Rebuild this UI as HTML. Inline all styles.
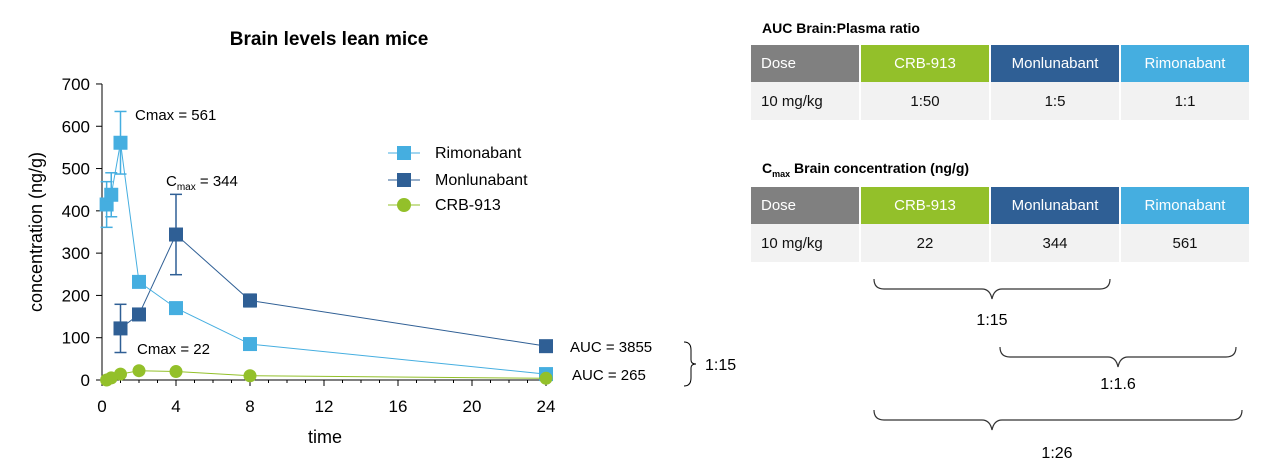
<!DOCTYPE html>
<html><head><meta charset="utf-8"><style>
body{margin:0;width:1261px;height:475px;background:#fff;font-family:"Liberation Sans",sans-serif;overflow:hidden;position:relative}
table{position:absolute;left:751px;border-collapse:collapse;font-size:15px}
td{height:37px;text-align:center;border-right:2px solid #fff;padding:0}
.h td{color:#fff}
.d td{background:#f2f2f2;color:#111;height:38px}
.ttl{position:absolute;left:762px;font-weight:bold;font-size:14px}
</style></head><body>
<svg width="1261" height="475" style="position:absolute;left:0;top:0">
<text x="329" y="45" text-anchor="middle" font-weight="bold" font-size="19">Brain levels lean mice</text>
<g id="axes"></g><g id="marks"></g>
<text x="325" y="443" text-anchor="middle" font-size="18">time</text>
<text transform="translate(42,232) rotate(-90)" text-anchor="middle" font-size="18">concentration (ng/g)</text>
<text x="135" y="120" font-size="15">Cmax = 561</text>
<text x="166" y="186" font-size="15">C<tspan font-size="10" dy="4">max</tspan><tspan dy="-4"> = 344</tspan></text>
<text x="137" y="354" font-size="15">Cmax = 22</text>
<text x="570" y="352" font-size="15">AUC = 3855</text>
<text x="572" y="380" font-size="15">AUC = 265</text>
<path d="M684,342 q7,0 7,8 v10 q0,4 5,4 q-5,0 -5,4 v10 q0,8 -7,8" fill="none" stroke="#000"/>
<text x="705" y="370" font-size="16">1:15</text>
<g>
<line x1="388" y1="153" x2="420" y2="153" stroke="#45aee0"/><rect x="397" y="146" width="14" height="14" fill="#45aee0"/><text x="435" y="158" font-size="16">Rimonabant</text>
<line x1="388" y1="180" x2="420" y2="180" stroke="#2f5f95"/><rect x="397" y="173" width="14" height="14" fill="#2f5f95"/><text x="435" y="185" font-size="16">Monlunabant</text>
<line x1="388" y1="205" x2="420" y2="205" stroke="#93c02a"/><circle cx="404" cy="205" r="7" fill="#93c02a"/><text x="435" y="210" font-size="16">CRB-913</text>
</g>
<g fill="none" stroke="#333" stroke-width="1.2">
<path d="M874,279 q0,10 10,10 h98 q8,0 10,10 q2,-10 10,-10 h98 q10,0 10,-10"/>
<path d="M1000,347 q0,10 10,10 h98 q8,0 10,10 q2,-10 10,-10 h98 q10,0 10,-10"/>
<path d="M874,410 q0,10 10,10 h98 q8,0 10,10 q2,-10 10,-10 h230 q10,0 10,-10"/>
</g>
<text x="992" y="325" text-anchor="middle" font-size="16">1:15</text>
<text x="1118" y="389" text-anchor="middle" font-size="16">1:1.6</text>
<text x="1057" y="458" text-anchor="middle" font-size="16">1:26</text>
</svg>
<div class="ttl" style="top:20px">AUC Brain:Plasma ratio</div>
<table style="top:45px">
<tr class="h"><td style="width:108px;background:#808080;text-align:left;padding-left:10px;width:98px">Dose</td><td style="width:128px;background:#93c02a">CRB-913</td><td style="width:128px;background:#2f5f95">Monlunabant</td><td style="width:128px;background:#45aee0">Rimonabant</td></tr>
<tr class="d"><td style="text-align:left;padding-left:10px">10 mg/kg</td><td>1:50</td><td>1:5</td><td>1:1</td></tr></table>
<div class="ttl" style="top:160px">C<sub style="font-size:9px">max</sub> Brain concentration (ng/g)</div>
<table style="top:187px">
<tr class="h"><td style="background:#808080;text-align:left;padding-left:10px;width:98px">Dose</td><td style="width:128px;background:#93c02a">CRB-913</td><td style="width:128px;background:#2f5f95">Monlunabant</td><td style="width:128px;background:#45aee0">Rimonabant</td></tr>
<tr class="d"><td style="text-align:left;padding-left:10px">10 mg/kg</td><td>22</td><td>344</td><td>561</td></tr></table>
<script>
const yTicks=[0,100,200,300,400,500,600,700];
const xTicks=[0,4,8,12,16,20,24];
const rimT=[0.25,0.5,1,2,4,8,24];
const rimV=[415,438,561,232,170,85,14];
const rimErr=[54,52,74,0,0,0,0];
const monT=[1,2,4,8,24];
const monV=[122,155,344,188,80];
const monErr=[57,0,95,15,0];
const crbT=[0.25,0.5,1,2,4,8,24];
const crbV=[0,5,14,22,20,10,4];
const X=t=>102+t*18.5, Y=v=>380-v*0.4229;
const NS='http://www.w3.org/2000/svg';
function mk(tag,attrs,parent){const e=document.createElementNS(NS,tag);for(const k in attrs)e.setAttribute(k,attrs[k]);parent.appendChild(e);return e;}
const ax=document.getElementById('axes'),mg=document.getElementById('marks');
let a=mk('line',{x1:102,y1:Y(700),x2:102,y2:380,stroke:'#000'},ax);


a=mk('line',{x1:102,y1:380,x2:X(24),y2:380,stroke:'#000'},ax);


yTicks.forEach(v=>{mk('line',{x1:96,x2:102,y1:Y(v),y2:Y(v),stroke:'#000'},ax);const t=mk('text',{x:90,y:Y(v)+6,'text-anchor':'end','font-size':17},ax);t.textContent=v;

});
xTicks.forEach(v=>{mk('line',{x1:X(v),x2:X(v),y1:380,y2:386,stroke:'#000'},ax);const t=mk('text',{x:X(v),y:412,'text-anchor':'middle','font-size':17},ax);t.textContent=v;

});
for(let h=1;h<24;h++)mk('line',{x1:X(h),x2:X(h),y1:380,y2:383,stroke:'#000'},ax);
function series(T,V,E,col,shape,name){
 mk('polyline',{points:T.map((t,i)=>X(t)+','+Y(V[i])).join(' '),fill:'none',stroke:col,'stroke-width':1},mg);
 T.forEach((t,i)=>{
  if(E&&E[i]){mk('line',{x1:X(t),x2:X(t),y1:Y(V[i]+E[i]),y2:Y(V[i]-E[i]),stroke:col,'stroke-width':1.5},mg);
   [V[i]+E[i],V[i]-E[i]].forEach(v=>mk('line',{x1:X(t)-6,x2:X(t)+6,y1:Y(v),y2:Y(v),stroke:col,'stroke-width':1.5},mg));}
  let m=shape==='sq'?mk('rect',{x:X(t)-7,y:Y(V[i])-7,width:14,height:14,fill:col},mg):mk('circle',{cx:X(t),cy:Y(V[i]),r:6.5,fill:col},mg);
  
  
 });
}
series(monT,monV,monErr,'#2f5f95','sq','monlunabant');
series(rimT,rimV,rimErr,'#45aee0','sq','rimonabant');
series(crbT,crbV,null,'#93c02a','c','crb-913');
</script>
</body></html>
